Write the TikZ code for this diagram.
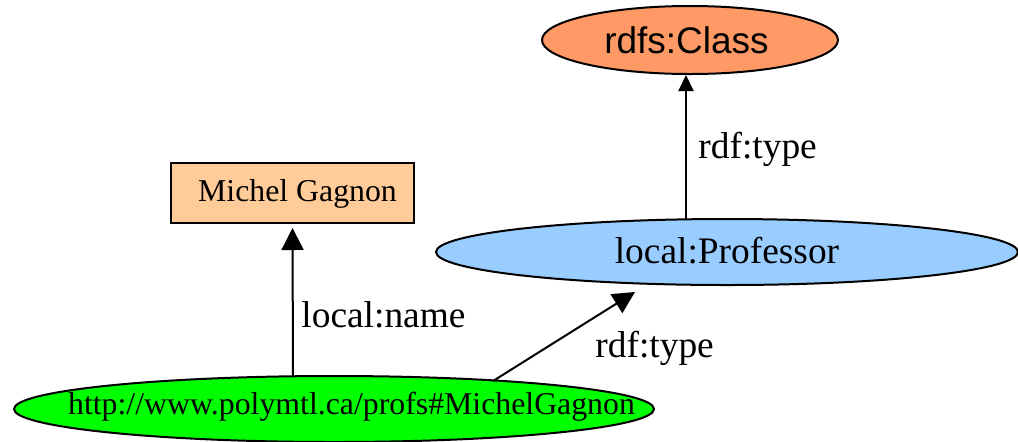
\documentclass[tikz,border=0pt]{standalone}
\usepackage{fontspec}
\setmainfont{Liberation Serif}
\newfontfamily\arialfont{Liberation Sans}
\usetikzlibrary{shapes.geometric,arrows.meta}

\definecolor{classfill}{RGB}{255,153,102}
\definecolor{literalfill}{RGB}{255,204,153}
\definecolor{typefill}{RGB}{153,204,255}
\definecolor{urifill}{RGB}{0,255,0}

\newcommand{\serifsz}{\fontsize{15.9pt}{19pt}\selectfont}
\newcommand{\seriflg}{\fontsize{18.7pt}{22pt}\selectfont}
\newcommand{\sanssz}{\arialfont\fontsize{18.5pt}{22pt}\selectfont}

\tikzset{
  shapebase/.style={draw=black, line width=1pt, inner sep=0pt},
  ell/.style={shapebase, ellipse},
  litbox/.style={shapebase, rectangle},
  txt/.style={font=\serifsz, inner sep=0pt},
  edgelbl/.style={font=\seriflg, inner sep=0pt, anchor=base west},
  bigarrow/.style={line width=1pt, -{Triangle[length=11pt,width=11pt]}},
  smallarrow/.style={line width=1pt, -{Triangle[length=8pt,width=7.5pt]}}
}

\begin{document}
\begin{tikzpicture}[x=0.5pt,y=-0.5pt]
\useasboundingbox (0,0) rectangle (1018,441);

% resources and literal
\node[ell, fill=classfill, minimum width=148pt, minimum height=34pt] (cls) at (690,40) {};
\node[txt, font=\sanssz] (clstxt) at (686.5,40) {rdfs:Class};

\node[ell, fill=typefill, minimum width=291pt, minimum height=33pt] (prof) at (727,252) {};
\node[txt, font=\seriflg] (proftxt) at (727,251) {local:Professor};

\node[litbox, fill=literalfill, minimum width=121.5pt, minimum height=30pt] (mg) at (292.5,193) {};
\node[txt] (mgtxt) at (297.5,194) {Michel Gagnon};

\node[ell, fill=urifill, minimum width=320pt, minimum height=33pt] (uri) at (334,409) {};
\node[txt] (uritxt) at (351.5,407) {http://www.polymtl.ca/profs\#MichelGagnon};

% properties
\draw[bigarrow] ([shift={(-41,-33)}]uri.center) -- ([shift={(0,4)}]mg.south);
\draw[bigarrow] ([shift={(159,-28)}]uri.center) -- ([shift={(-92,40)}]prof.center);
\draw[smallarrow] ([shift={(-41,-33)}]prof.center) -- ([shift={(-4,0)}]cls.south);

% property labels
\node[edgelbl] (lblname) at (301,327) {local:name};
\node[edgelbl] (lbltype1) at (595,357) {rdf:type};
\node[edgelbl] (lbltype2) at (698,158) {rdf:type};
\end{tikzpicture}
\end{document}
